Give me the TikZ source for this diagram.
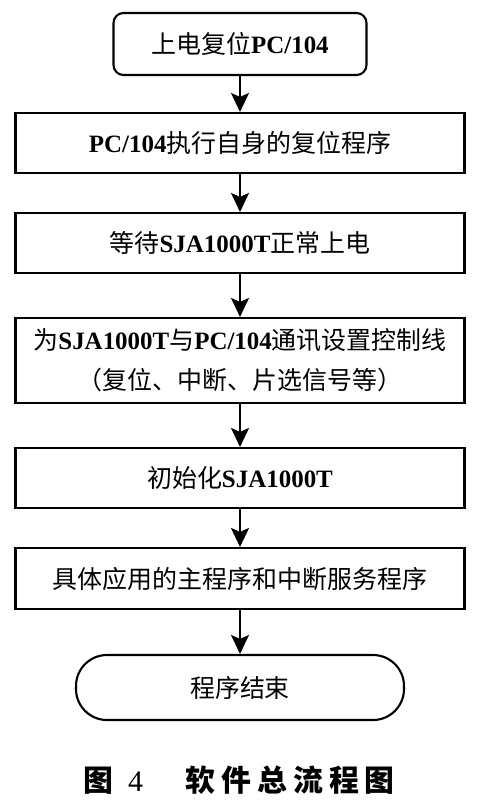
\documentclass[tikz,border=0pt]{standalone}
\usepackage{fontspec}
\setmainfont{Liberation Serif}
\newfontfamily\cjk{Noto Sans CJK SC}
\usetikzlibrary{positioning,arrows.meta}
\newcommand{\zh}[1]{{\cjk\mdseries #1}}
\newcommand{\en}[1]{\textbf{#1}}

\begin{document}
\begin{tikzpicture}[
    box/.style={draw, line width=1.2pt, minimum width=8.98cm, minimum height=1.2cm, align=center, inner sep=0pt, font=\fontsize{14.2pt}{22.8pt}\selectfont},
    term/.style={box, rounded corners=0.62cm, minimum width=6.56cm, minimum height=1.3cm},
    arr/.style={-{Stealth[length=0.38cm, width=0.36cm, inset=0.08cm]}, line width=1.1pt}
]
    \useasboundingbox (0,0) rectangle (9.54,-16.16);

    % --- Start ---
    \node[box, rounded corners=0.2cm, minimum width=5.06cm, minimum height=1.24cm] (start) at (4.8,-0.88) {\zh{上电复位}\en{PC/104}};

    % --- Steps ---
    \node[box] (reset) at (4.8,-2.86) {\en{PC/104}\zh{执行自身的复位程序}};
    \node[box] (wait) at (4.8,-4.86) {\zh{等待}\en{SJA1000T}\zh{正常上电}};
    \node[box, minimum height=1.7cm] (ctrl) at (4.8,-7.21) {\zh{为}\en{SJA1000T}\zh{与}\en{PC/104}\zh{通讯设置控制线}\\\zh{（复位、中断、片选信号等）}};
    \node[box] (init) at (4.8,-9.56) {\zh{初始化}\en{SJA1000T}};
    \node[box, minimum height=1.22cm] (app) at (4.8,-11.57) {\zh{具体应用的主程序和中断服务程序}};

    % --- End ---
    \node[term] (stop) at (4.8,-13.75) {\zh{程序结束}};

    \draw[arr] (start) -- (reset);
    \draw[arr] (reset) -- (wait);
    \draw[arr] (wait) -- (ctrl);
    \draw[arr] (ctrl) -- (init);
    \draw[arr] (init) -- (app);
    \draw[arr] (app) -- (stop);

    % Caption
    \node[font=\fontsize{17pt}{20pt}\selectfont] (cap) at (4.78,-15.6) {{\cjk\bfseries 图}\hspace{0.3cm}4\hspace{0.85cm}{\cjk\bfseries 软\hspace{0.12cm}件\hspace{0.12cm}总\hspace{0.12cm}流\hspace{0.12cm}程\hspace{0.12cm}图}};
\end{tikzpicture}
\end{document}
